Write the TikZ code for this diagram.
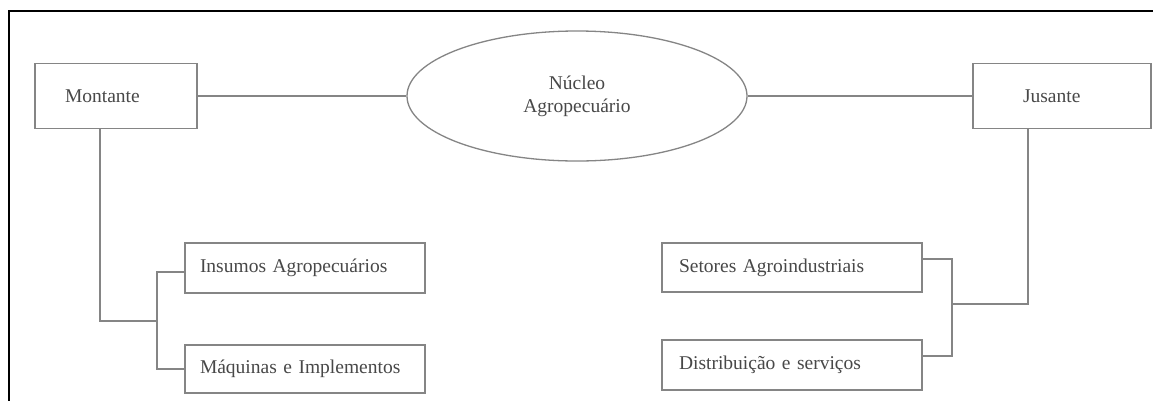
\documentclass[tikz,border=0pt]{standalone}
\usepackage{fontspec}
\setmainfont{Liberation Serif}
\usetikzlibrary{shapes.geometric}
\definecolor{linegray}{HTML}{858585}
\definecolor{textgray}{HTML}{484848}
\begin{document}
\begin{tikzpicture}[x=1pt,y=-1pt,
  every node/.style={font=\fontsize{19.5}{25}\selectfont, text=textgray},
  box/.style={draw=linegray, line width=1.3pt, rectangle, align=left, inner ysep=0pt},
  oval/.style={draw=linegray, line width=1.3pt, ellipse, inner sep=0pt, minimum width=340pt, minimum height=130pt, align=center},
  conn/.style={draw=linegray, line width=1.3pt}
]
\fill[white] (0,0) rectangle (1153,400);
\useasboundingbox (0,0) rectangle (1153,400);
\draw[black, line width=1.6pt] (9,401) -- (9,11) -- (1154,11);

\node[box, inner xsep=30pt, text width=102pt, minimum height=65pt] (mont) at (116,96) {Montante};
\node[oval] (nuc) at (577,96) {Núcleo\\[-2pt]Agropecuário};
\node[box, inner xsep=50pt, text width=78pt, minimum height=65pt] (jus) at (1062,96) {Jusante};

\node[box, inner xsep=15pt, text width=210pt, minimum height=50pt] (ins) at (305,268) {Insumos Agropecuários};
\node[box, inner xsep=15pt, text width=210pt, minimum height=48pt] (maq) at (305,369) {Máquinas e Implementos};
\node[box, inner xsep=17pt, text width=226pt, minimum height=49pt] (set) at (792,267.5) {Setores Agroindustriais};
\node[box, inner xsep=17pt, text width=226pt, minimum height=50pt] (dis) at (792,365) {Distribuição e serviços};

\coordinate (lj) at (157,321);
\coordinate (rj) at (952,304);

\draw[conn] (mont.east) -- (nuc.west);
\draw[conn] (nuc.east) -- (jus.west);
\draw[conn] ([xshift=-16pt]mont.south) |- (lj);
\draw[conn] ([yshift=-4pt]ins.west) -| (lj) |- (maq.west);
\draw[conn] ([xshift=-34pt]jus.south) |- (rj);
\draw[conn] ([yshift=8.5pt]set.east) -| (rj) |- ([yshift=9pt]dis.east);
\end{tikzpicture}
\end{document}
